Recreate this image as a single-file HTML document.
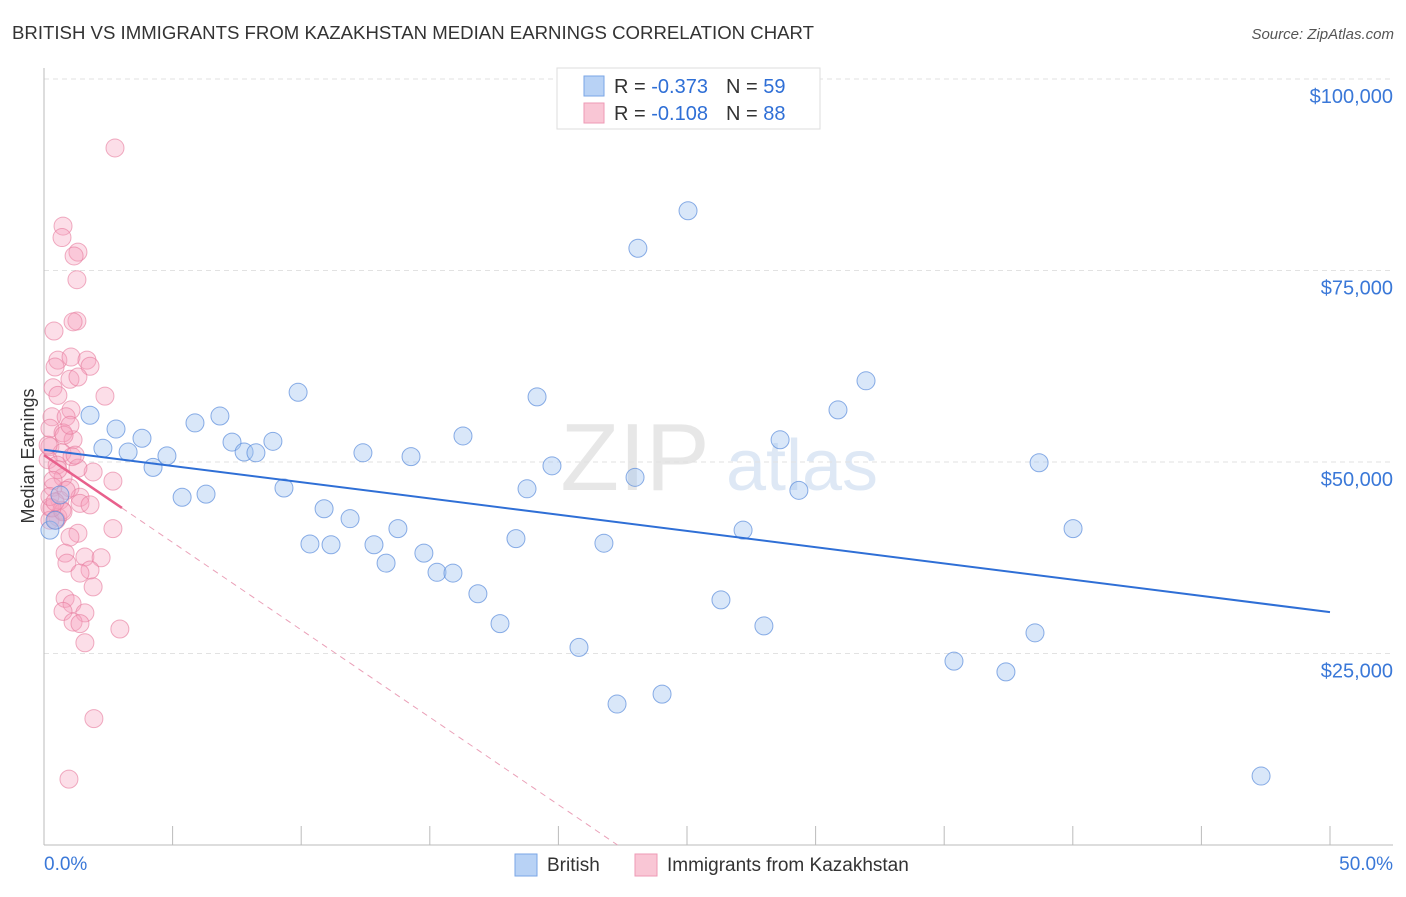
<!DOCTYPE html>
<html><head><meta charset="utf-8"><style>
body{margin:0;background:#fff;font-family:"Liberation Sans",sans-serif;}
svg text{font-family:"Liberation Sans",sans-serif;}
</style></head><body>
<svg id="chart" width="1406" height="892" xmlns="http://www.w3.org/2000/svg">
<text x="12" y="39" font-size="18" fill="#333" textLength="802" lengthAdjust="spacingAndGlyphs">BRITISH VS IMMIGRANTS FROM KAZAKHSTAN MEDIAN EARNINGS CORRELATION CHART</text>
<text x="1394" y="39" font-size="15" fill="#555" text-anchor="end" font-style="italic">Source: ZipAtlas.com</text>
<g>
<text x="635" y="490" font-size="96" fill="#ddd" text-anchor="middle" font-family="Liberation Serif" opacity="0.7">ZIP</text>
<text x="802" y="490" font-size="72" fill="#c9daf0" text-anchor="middle" opacity="0.6">atlas</text>
</g>
<g id="grid"></g>
<g id="axes"></g>
<g id="marks"></g>
<g id="trends"></g>
<text transform="translate(34,456) rotate(-90)" font-size="18" fill="#333" text-anchor="middle">Median Earnings</text>
<g>
<rect x="557" y="68" width="263" height="61" fill="#fff" stroke="#ddd"/>
<rect x="584" y="76" width="20" height="20" fill="#b8d2f5" stroke="#7aa6e6"/>
<rect x="584" y="103" width="20" height="20" fill="#f9c6d5" stroke="#ee9ab5"/>
<text x="614" y="93" font-size="20" fill="#333">R = <tspan fill="#2f6fd6">-0.373</tspan><tspan dx="18">N = </tspan><tspan fill="#2f6fd6">59</tspan></text>
<text x="614" y="120" font-size="20" fill="#333">R = <tspan fill="#2f6fd6">-0.108</tspan><tspan dx="18">N = </tspan><tspan fill="#2f6fd6">88</tspan></text>
</g>
<g>
<rect x="515" y="854" width="22" height="22" fill="#b8d2f5" stroke="#7aa6e6"/>
<text x="547" y="871" font-size="19" fill="#333">British</text>
<rect x="635" y="854" width="22" height="22" fill="#f9c6d5" stroke="#ee9ab5"/>
<text x="667" y="871" font-size="19" fill="#333">Immigrants from Kazakhstan</text>
</g>
</svg>
<script>
const britishX=[1.79,2.80,2.29,3.27,3.81,4.24,4.78,5.37,5.87,6.30,6.84,7.31,7.78,8.24,8.90,9.33,9.88,10.34,10.89,11.16,11.90,12.40,12.83,13.30,13.76,14.27,14.77,15.28,15.90,16.29,16.87,17.73,18.35,18.78,19.17,19.75,20.80,21.77,22.28,22.98,23.09,24.03,25.04,26.32,27.18,27.99,28.62,29.35,30.87,31.96,35.38,37.40,38.53,38.69,40.01,47.32,0.23,0.43,0.62];
const britishY=[56.1,54.3,51.8,51.3,53.1,49.3,50.8,45.4,55.1,45.8,56.0,52.6,51.3,51.2,52.7,46.6,59.1,39.3,43.9,39.2,42.6,51.2,39.2,36.8,41.3,50.7,38.1,35.6,35.5,53.4,32.8,28.9,40.0,46.5,58.5,49.5,25.8,39.4,18.4,48.0,77.9,19.7,82.8,32.0,41.1,28.6,52.9,46.3,56.8,60.6,24.0,22.6,27.7,49.9,41.3,9.0,41.1,42.4,45.7];
const kazX=[2.76,0.74,0.70,1.32,1.17,1.28,1.28,1.13,0.39,0.54,1.05,1.67,1.79,0.43,1.01,1.32,0.35,2.37,1.05,0.31,0.86,0.23,0.74,1.13,0.23,0.70,1.09,0.16,0.51,1.91,1.32,2.68,0.74,0.35,1.01,1.40,0.62,1.40,1.79,0.23,0.54,0.70,0.23,2.68,1.32,1.01,0.82,1.59,2.22,0.89,1.79,1.40,1.91,0.82,1.09,1.59,0.74,1.13,1.40,2.95,1.59,1.94,0.97,0.54,0.78,0.86,0.47,0.74,1.21,0.31,0.54,1.01,0.16,0.35,0.23,0.43];
const kazY=[91.0,80.8,79.3,77.4,76.9,73.8,68.4,68.3,67.1,63.3,63.7,63.3,62.5,62.4,60.8,61.1,59.7,58.6,56.8,55.9,55.9,54.4,53.8,52.9,52.0,51.2,50.7,50.3,49.6,48.7,49.2,47.5,48.0,46.7,46.6,45.4,45.0,44.6,44.4,44.1,42.8,43.7,42.4,41.3,40.7,40.2,38.1,37.6,37.5,36.8,35.9,35.5,33.7,32.2,31.5,30.3,30.5,29.1,28.9,28.2,26.4,16.5,8.6,58.7,53.5,46.3,42.4,43.5,50.9,44.0,49.0,54.8,52.2,47.6,45.5,44.8];
const yTicks=[25000,50000,75000,100000];
const yTickLabels=["$25,000","$50,000","$75,000","$100,000"];
const xTicks=[0,5,10,15,20,25,30,35,40,45,50];
const blueTrend=[[0,51.6],[50,30.4]];
const pinkTrend=[[0,50.9],[3.03,44.0]];
const pinkDash=[[3.03,44.0],[22.3,0]];
const NS="http://www.w3.org/2000/svg";
const X0=44,X1=1330,Y0=845,PX_PER_K=191.5/25;
const sx=p=>X0+p/50*(X1-X0);
const sy=k=>Y0-k*PX_PER_K;
function mk(tag,attrs,parent){const e=document.createElementNS(NS,tag);for(const k in attrs)e.setAttribute(k,attrs[k]);parent.appendChild(e);return e;}
const grid=document.getElementById('grid'),axes=document.getElementById('axes'),marks=document.getElementById('marks'),trends=document.getElementById('trends');
yTicks.forEach((t,i)=>{const y=sy(t/1000);
const l=mk('line',{x1:X0,x2:1393,y1:y,y2:y,stroke:'#e2e2e2','stroke-dasharray':'5,4'},grid);


const tx=mk('text',{x:1393,y:y+24,'font-size':20,fill:'#3a78d8','text-anchor':'end'},axes);
tx.textContent=yTickLabels[i];

});
const ax=mk('line',{x1:X0,x2:1393,y1:Y0,y2:Y0,stroke:'#bbb'},axes);


const ay=mk('line',{x1:X0,x2:X0,y1:68,y2:Y0,stroke:'#bbb'},axes);


xTicks.forEach(t=>{const x=sx(t);const l=mk('line',{x1:x,x2:x,y1:826,y2:Y0,stroke:'#bbb'},axes);

});
const xl0=mk('text',{x:X0,y:870,'font-size':19,fill:'#3a78d8'},axes);xl0.textContent='0.0%';


const xl1=mk('text',{x:1393,y:870,'font-size':19,fill:'#3a78d8','text-anchor':'end'},axes);xl1.textContent='50.0%';


kazX.forEach((x,i)=>{const c=mk('circle',{cx:sx(x),cy:sy(kazY[i]),r:9,fill:'rgba(245,160,188,0.35)',stroke:'rgba(230,120,155,0.6)','stroke-width':1},marks);

});
britishX.forEach((x,i)=>{const c=mk('circle',{cx:sx(x),cy:sy(britishY[i]),r:9,fill:'rgba(160,195,240,0.4)',stroke:'rgba(90,140,220,0.7)','stroke-width':1},marks);

});
const bt=mk('line',{x1:sx(blueTrend[0][0]),y1:sy(blueTrend[0][1]),x2:sx(blueTrend[1][0]),y2:sy(blueTrend[1][1]),stroke:'#2f6fd6','stroke-width':2},trends);


const pd=mk('line',{x1:sx(pinkDash[0][0]),y1:sy(pinkDash[0][1]),x2:sx(pinkDash[1][0]),y2:sy(pinkDash[1][1]),stroke:'#eaa0b8','stroke-width':1,'stroke-dasharray':'6,5'},trends);


const pt=mk('line',{x1:sx(pinkTrend[0][0]),y1:sy(pinkTrend[0][1]),x2:sx(pinkTrend[1][0]),y2:sy(pinkTrend[1][1]),stroke:'#e8608c','stroke-width':2.5},trends);


</script>
</body></html>
